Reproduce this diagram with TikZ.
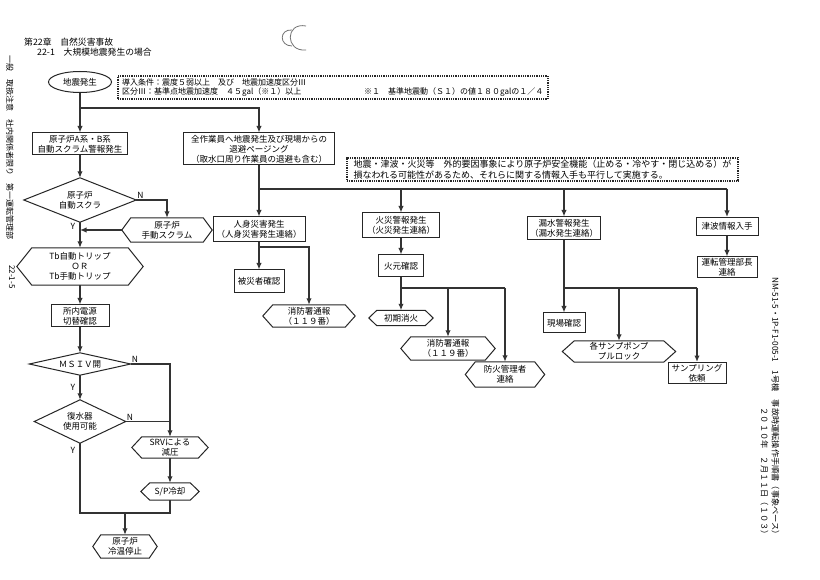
\documentclass[tikz,border=0pt]{standalone}
\usepackage{fontspec}
\setmainfont{Noto Sans CJK JP}
\usetikzlibrary{shapes.geometric,arrows.meta,calc}
\newcommand{\hexnode}[7]{%
  \node[txt, minimum width=#4pt, minimum height=#5pt] (#1) at (#2,#3) {#7};
  \draw[shapeline] (#1.west) -- ([xshift=#6pt]#1.north west) -- ([xshift=-#6pt]#1.north east) -- (#1.east) -- ([xshift=-#6pt]#1.south east) -- ([xshift=#6pt]#1.south west) -- cycle;
}
\newcommand{\diamnode}[6]{%
  \node[txt, minimum width=#4pt, minimum height=#5pt] (#1) at (#2,#3) {#6};
  \draw[shapeline] (#1.west) -- (#1.north) -- (#1.east) -- (#1.south) -- cycle;
}
\begin{document}
\begin{tikzpicture}[x=1pt,y=-1pt,
  conn/.style={draw=black!80, line width=1.5pt},
  arr/.style={conn, -{Latex[length=6.5pt,width=5.5pt]}},
  txt/.style={inner sep=0.5pt, align=center, font=\fontsize{8.5}{10}\selectfont, text=black},
  rbox/.style={txt, draw=black!85, line width=1pt, rectangle},
  shapeline/.style={draw=black!85, line width=1pt},
  lbl/.style={font=\fontsize{8.5}{10}\selectfont, inner sep=1pt},
  small/.style={font=\fontsize{8}{9}\selectfont, inner sep=0pt},
  hdr/.style={font=\fontsize{8.8}{10}\selectfont, inner sep=0pt},
  side/.style={font=\fontsize{8}{11}\selectfont, inner sep=0pt},
  dotbox/.style={draw=black!85, line width=1.2pt, dash pattern=on 1pt off 0.8pt},
  hole/.style={draw=black!55, line width=0.8pt}
]
\fill[white] (0,0) rectangle (820,580);
\useasboundingbox (0,0) rectangle (820,580);

% punch holes
\draw[hole] (292,30) .. controls (279,29) and (279,46) .. (292,46);
\draw[hole] (306,26) .. controls (285,22) and (285,52) .. (306,50);

% header
\node[hdr, anchor=west] (chap) at (24,42) {第22章　自然災害事故};
\node[hdr, anchor=west] (sec) at (37,52) {22-1　大規模地震発生の場合};

% margin texts
\node[side, rotate=-90] (mleft) at (10,148) {一般　取扱注意　社内関係者限り　第一運転管理部};
\node[side, rotate=-90] (mpage) at (12,277) {22-1-5};
\node[side, rotate=-90, align=right, font=\fontsize{8.2}{11}\selectfont] (mright) at (770,408) {NM-51-5・1P-F1-005-1　1号機　事故時運転操作手順書（事象ベース）\\２０１０年　２月１１日（１０３）};

% top
\node[txt, ellipse, draw=black!85, line width=1pt, minimum width=63pt, minimum height=21pt, inner sep=0pt] (quake) at (80,82) {地震発生};
\node[dotbox, minimum width=430pt, minimum height=23pt] (cond) at (333,87.5) {};
\node[small, anchor=west] (cond1) at (122,82) {導入条件：震度５弱以上　及び　地震加速度区分Ⅲ};
\node[small, anchor=west] (cond2) at (122,92.5) {区分Ⅲ：基準点地震加速度　４５gal（※１）以上};
\node[small, anchor=west] (cond3) at (364,92.5) {※１　基準地震動（Ｓ１）の値１８０galの１／４};

\coordinate (jtop) at (80,108);
\node[rbox, minimum width=95pt, minimum height=22pt] (scramA) at (80,144) {原子炉A系・B系\\自動スクラム警報発生};
\node[rbox, minimum width=151pt, minimum height=32pt] (allstaff) at (259,149) {全作業員へ地震発生及び現場からの\\退避ページング\\（取水口周り作業員の退避も含む）};
\node[txt, dotbox, align=left, font=\fontsize{9}{10.5}\selectfont, minimum width=391pt, minimum height=23pt] (notice) at (542.5,169.5) {地震・津波・火災等　外的要因事象により原子炉安全機能（止める・冷やす・閉じ込める）が\\損なわれる可能性があるため、それらに関する情報入手も平行して実施する。};

% left column
\diamnode{scramQ}{80}{200}{112}{44}{原子炉\\自動スクラ}
\hexnode{manual}{167}{230}{90}{24}{9}{原子炉\\手動スクラム}
\hexnode{trip}{80}{266.5}{126}{37}{15}{Tb自動トリップ\\ＯＲ\\Tb手動トリップ}
\node[rbox, minimum width=58pt, minimum height=22pt] (power) at (80,316) {所内電源\\切替確認};
\diamnode{msiv}{80}{364}{101}{22}{ＭＳＩＶ開}
\diamnode{condenser}{80}{421.5}{91}{43}{復水器\\使用可能}
\hexnode{srv}{170}{447.5}{76}{21}{10}{SRVによる\\減圧}
\hexnode{sp}{170}{491.5}{58}{17}{9}{S/P冷却}
\hexnode{cold}{125}{546.5}{64}{23}{8}{原子炉\\冷温停止}
\coordinate (jcold) at (125,513);

\node[lbl, anchor=south west] (n1) at (scramQ.east) {N};
\node[lbl] (y1) at (73,226) {Y};
\node[lbl, anchor=south west] (n2) at (msiv.east) {N};
\node[lbl] (y2) at (73,387) {Y};
\node[lbl, anchor=south west] (n3) at (condenser.east) {N};
\node[lbl] (y3) at (73,450) {Y};

% personnel
\node[rbox, minimum width=92pt, minimum height=25pt] (jinshin) at (259,229.5) {人身災害発生\\（人身災害発生連絡）};
\node[rbox, minimum width=50pt, minimum height=23pt] (victim) at (259,281.5) {被災者確認};
\hexnode{callA}{309}{316}{92}{22}{10}{消防署通報\\（１１９番）}
\coordinate (jv) at (259,247);
\coordinate (jmain) at (259,189);

% fire
\node[rbox, minimum width=77pt, minimum height=25pt] (fire) at (401,225.5) {火災警報発生\\（火災発生連絡）};
\node[rbox, minimum width=45pt, minimum height=22pt] (firesrc) at (401,266) {火元確認};
\coordinate (jf) at (401,288);
\hexnode{extinguish}{401}{318}{64}{15}{8}{初期消火}
\hexnode{callB}{448}{348.5}{94}{23}{10}{消防署通報\\（１１９番）}
\hexnode{fireman}{505}{374.5}{79}{25}{10}{防火管理者\\連絡}

% leak
\node[rbox, minimum width=73pt, minimum height=23pt] (leak) at (564,228.5) {漏水警報発生\\（漏水発生連絡）};
\node[rbox, minimum width=42pt, minimum height=20pt] (site) at (564,323) {現場確認};
\coordinate (jl) at (564,288);
\hexnode{sump}{619}{351.5}{113}{21}{12}{各サンプポンプ\\プルロック}
\node[rbox, minimum width=58pt, minimum height=21pt] (sampling) at (697,373) {サンプリング\\依頼};

% tsunami
\node[rbox, minimum width=62pt, minimum height=18pt] (tsunami) at (727,226.5) {津波情報入手};
\node[rbox, minimum width=60pt, minimum height=21pt] (manager) at (727,267.5) {運転管理部長\\連絡};

% connectors left
\draw[arr] (quake) -- (scramA);
\draw[arr] (jtop) -| (allstaff.north);
\draw[arr] (scramA) -- (scramQ.north);
\draw[arr] (scramQ.south) -- (trip.north);
\draw[arr] (scramQ.east) -| (manual.north);
\draw[arr] (manual.west) -- (manual.west -| scramQ.south);
\draw[arr] (trip) -- (power);
\draw[arr] (power) -- (msiv.north);
\draw[arr] (msiv.south) -- (condenser.north);
\draw[arr] (msiv.east) -| (srv.north);
\draw[conn] (condenser.east) -- (condenser.east -| srv.north);
\draw[arr] (srv) -- (sp);
\draw[conn] (condenser.south) |- (jcold) -| (sp.south);
\draw[arr] (jcold) -- (cold.north);

% connectors right
\draw[arr] (allstaff) -- (jinshin);
\draw[conn] (jmain) -- (jmain -| tsunami);
\draw[arr] (jmain -| fire) -- (fire);
\draw[arr] (jmain -| leak) -- (leak);
\draw[arr] (jmain -| tsunami) -- (tsunami);
\draw[arr] (jinshin) -- (victim);
\draw[arr] (jv) -| (callA.north);
\draw[arr] (fire) -- (firesrc);
\draw[arr] (firesrc) -- (extinguish.north);
\draw[conn] (jf) -- (jf -| fireman);
\draw[arr] (jf -| callB) -- (callB.north);
\draw[arr] (jf -| fireman) -- (fireman.north);
\draw[arr] (leak) -- (site);
\draw[conn] (jl) -- (jl -| sampling);
\draw[arr] (jl -| sump) -- (sump.north);
\draw[arr] (jl -| sampling) -- (sampling.north);
\draw[arr] (tsunami) -- (manager);
\end{tikzpicture}
\end{document}
